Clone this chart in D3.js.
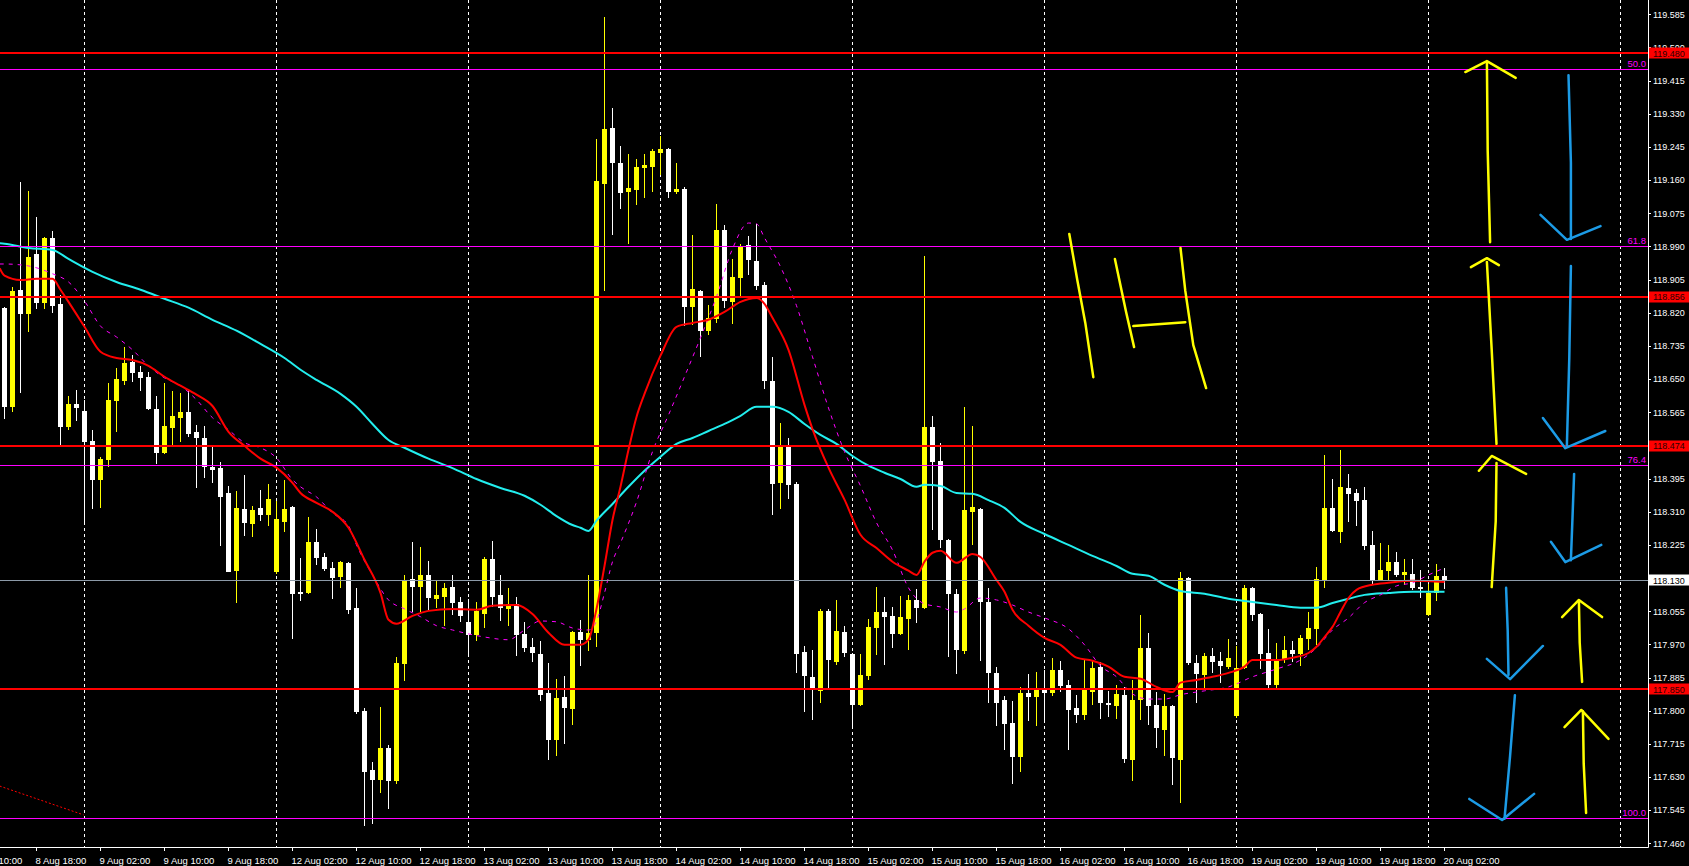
<!DOCTYPE html>
<meta charset="utf-8">
<head>
<style>
body { margin: 0; background: #000; overflow: hidden; }
svg { display: block; }
.axis text { font-family: "Liberation Sans", Arial, sans-serif; fill: #fff; }
</style>
</head>
<body>
<div id="chart"></div>
<script src="https://d3js.org/d3.v7.min.js"></script>
<script>

// hourly candles, bar 0 = 8 Aug 14:00
var open = [118.827,118.574,118.873,118.812,118.966,118.840,119.007,118.837,118.522,118.581,
118.563,118.486,118.386,118.438,118.589,118.640,118.689,118.663,118.650,118.568,
118.456,118.520,118.545,118.561,118.509,118.494,118.419,118.417,118.353,118.154,
118.312,118.274,118.315,118.297,118.151,118.279,118.317,118.099,118.097,118.228,
118.190,118.161,118.138,118.174,118.058,117.795,117.643,117.618,117.700,117.615,
117.915,118.133,118.112,118.143,118.081,118.087,118.112,118.074,118.023,117.989,
118.043,118.184,118.092,118.056,118.069,117.992,117.958,117.941,117.840,117.720,
117.830,117.799,117.997,117.976,117.994,119.145,119.289,119.199,119.125,119.130,
119.186,119.189,119.225,119.235,119.125,119.132,118.830,118.871,118.768,118.799,
119.027,118.843,118.904,118.989,118.948,118.886,118.640,118.379,118.471,118.376,
117.946,117.881,117.845,118.050,117.920,117.996,117.940,117.811,117.883,118.007,
118.048,118.037,117.992,118.030,118.079,118.059,118.521,118.435,118.233,118.093,
117.949,118.305,118.312,118.073,117.892,117.823,117.764,117.677,117.841,117.830,
117.851,117.841,117.899,117.861,117.802,117.784,117.843,117.907,117.815,117.807,
117.835,117.669,117.823,117.956,117.810,117.746,117.807,117.669,118.136,117.917,
117.887,117.935,117.922,117.907,117.782,117.905,118.110,118.043,117.943,117.861,
117.928,117.951,117.940,117.979,118.005,118.131,118.315,118.253,118.366,118.353,
118.335,118.220,118.131,118.153,118.177,118.143,118.146,118.112,118.040,118.097,
118.141];

var high = [118.830,118.880,119.150,119.127,119.060,119.010,119.025,118.861,118.602,118.617,
118.591,118.515,118.446,118.635,118.673,118.727,118.707,118.679,118.663,118.602,
118.635,118.615,118.610,118.620,118.527,118.525,118.476,118.432,118.371,118.358,
118.399,118.320,118.361,118.376,118.333,118.386,118.320,118.187,118.292,118.261,
118.200,118.177,118.180,118.176,118.110,117.802,117.664,117.805,117.707,117.933,
118.143,118.228,118.215,118.180,118.128,118.123,118.143,118.087,118.081,118.074,
118.189,118.230,118.143,118.110,118.087,118.023,117.982,117.974,117.917,117.876,
117.884,118.000,118.028,118.143,119.260,119.573,119.340,119.242,119.222,119.209,
119.222,119.235,119.268,119.238,119.199,119.137,119.014,118.873,118.835,119.094,
119.040,118.953,118.991,119.012,119.042,118.894,118.702,118.532,118.494,118.381,
117.962,117.951,118.055,118.057,118.079,118.012,117.942,117.940,118.030,118.111,
118.087,118.062,118.089,118.092,118.108,118.960,118.550,118.481,118.236,118.106,
118.573,118.526,118.315,118.109,117.908,117.833,117.820,117.856,117.889,117.894,
117.899,117.930,117.922,117.874,117.835,117.925,117.925,117.920,117.846,117.861,
117.856,117.874,118.040,117.994,117.843,117.838,117.810,118.151,118.138,117.938,
117.943,117.956,117.946,117.979,117.961,118.117,118.112,118.045,118.005,117.969,
117.987,117.974,117.989,118.048,118.163,118.451,118.389,118.464,118.402,118.363,
118.369,118.256,118.225,118.220,118.202,118.184,118.184,118.156,118.120,118.171,
118.161];

var low = [118.542,118.561,118.610,118.766,118.825,118.825,118.815,118.477,118.515,118.538,
118.276,118.312,118.315,118.420,118.510,118.630,118.637,118.615,118.566,118.427,
118.452,118.476,118.484,118.496,118.366,118.392,118.379,118.217,118.150,118.072,
118.243,118.241,118.282,118.269,118.146,118.253,117.979,118.076,118.094,118.169,
118.154,118.081,118.110,118.043,117.787,117.500,117.505,117.584,117.543,117.607,
117.871,118.048,118.048,118.053,118.058,118.012,118.040,118.023,117.938,117.974,
118.007,118.061,118.025,118.012,117.935,117.946,117.920,117.820,117.669,117.679,
117.710,117.759,117.910,117.948,117.958,118.871,119.014,119.081,118.991,119.091,
119.109,119.125,119.168,119.109,119.119,118.781,118.784,118.702,118.758,118.789,
118.827,118.786,118.858,118.912,118.873,118.620,118.297,118.312,118.338,117.892,
117.791,117.771,117.816,117.852,117.913,117.933,117.753,117.807,117.874,117.938,
117.913,117.956,117.990,117.951,118.021,118.057,118.258,118.212,117.933,117.890,
117.940,118.221,117.922,117.816,117.757,117.695,117.607,117.638,117.769,117.756,
117.766,117.833,117.843,117.695,117.764,117.771,117.810,117.774,117.779,117.774,
117.661,117.615,117.771,117.759,117.700,117.679,117.605,117.559,117.912,117.815,
117.851,117.892,117.866,117.902,117.776,117.902,118.025,117.902,117.851,117.848,
117.917,117.920,117.910,117.951,117.964,118.110,118.254,118.225,118.279,118.269,
118.207,118.117,118.128,118.131,118.138,118.117,118.105,118.084,118.038,118.076,
118.107];

var close = [118.574,118.871,118.812,118.958,118.840,119.007,118.832,118.522,118.581,118.571,
118.485,118.386,118.440,118.591,118.645,118.686,118.661,118.648,118.568,118.456,
118.525,118.550,118.561,118.504,118.494,118.420,118.413,118.344,118.151,118.315,
118.277,118.310,118.297,118.338,118.287,118.312,118.094,118.094,118.228,118.187,
118.159,118.136,118.177,118.053,117.792,117.638,117.618,117.700,117.615,117.917,
118.131,118.112,118.143,118.084,118.092,118.110,118.071,118.038,117.989,118.051,
118.184,118.087,118.058,118.069,117.989,117.956,117.943,117.835,117.720,117.828,
117.802,117.997,117.976,117.994,119.153,119.286,119.199,119.122,119.135,119.189,
119.194,119.230,119.235,119.125,119.132,118.830,118.876,118.768,118.802,119.027,
118.845,118.907,118.986,118.950,118.884,118.640,118.376,118.471,118.374,117.940,
117.883,117.851,118.050,117.924,117.999,117.942,117.811,117.887,118.009,118.048,
118.035,117.992,118.035,118.079,118.059,118.521,118.433,118.233,118.095,117.951,
118.309,118.316,118.073,117.892,117.816,117.761,117.677,117.841,117.830,117.851,
117.841,117.899,117.858,117.797,117.784,117.853,117.904,117.815,117.810,117.838,
117.671,117.823,117.956,117.807,117.751,117.807,117.674,118.136,117.917,117.889,
117.935,117.920,117.910,117.930,117.904,118.110,118.040,117.940,117.861,117.928,
117.951,117.940,117.982,118.007,118.133,118.315,118.256,118.369,118.351,118.333,
118.217,118.128,118.156,118.177,118.143,118.151,118.110,118.107,118.097,118.141,
118.130];

// moving averages, read as [bar, price]
var maSlow = [[-0.6,118.993],[0,118.992],[3,118.981],[6,118.976],[8,118.953],[11,118.920],[14,118.894],[17,118.874],[20,118.851],
[23,118.828],[26,118.797],[29,118.769],[32,118.735],[35,118.699],[37,118.669],[39,118.643],[42,118.607],[44,118.574],
[46,118.530],[48,118.489],[50,118.469],[53,118.441],[56,118.417],[59,118.389],[62,118.366],[65,118.346],[67,118.323],
[69,118.294],[71,118.271],[72,118.264],[73,118.256],[74,118.282],[76,118.325],[78,118.369],[80,118.410],[82,118.446],
[84,118.479],[86,118.494],[88,118.512],[90,118.530],[92,118.551],[94,118.574],[96,118.574],[98,118.561],[100,118.530],
[102,118.502],[104,118.479],[106,118.448],[108,118.423],[110,118.405],[112,118.389],[114,118.369],[115,118.374],
[117,118.371],[119,118.353],[121,118.351],[123,118.335],[125,118.315],[127,118.279],[130,118.248],[133,118.220],
[136,118.192],[139,118.166],[141,118.146],[143,118.141],[145,118.118],[147,118.102],[150,118.095],[153,118.082],
[156,118.074],[159,118.066],[162,118.059],[164,118.059],[166,118.071],[168,118.082],[170,118.092],[173,118.097],
[176,118.100],[180,118.100]];

var maFast = [[-0.6,118.929],[0,118.910],[2,118.899],[4,118.902],[6,118.902],[7,118.874],[8,118.843],[10,118.779],[12,118.715],
[14,118.699],[16,118.694],[18,118.679],[20,118.651],[22,118.628],[24,118.605],[26,118.576],[28,118.510],[30,118.474],
[32,118.441],[34,118.418],[36,118.379],[37,118.353],[39,118.328],[41,118.305],[43,118.264],[45,118.182],[47,118.097],
[48,118.028],[49,118.018],[51,118.038],[53,118.051],[56,118.056],[59,118.054],[61,118.064],[64,118.066],[66,118.043],
[68,117.995],[70,117.964],[72,117.964],[73,117.977],[74,118.056],[75,118.166],[76,118.284],[77,118.369],[78,118.464],
[79,118.548],[80,118.607],[82,118.705],[84,118.779],[86,118.789],[88,118.797],[90,118.817],[92,118.843],[94,118.853],
[95,118.838],[96,118.802],[98,118.720],[100,118.579],[101,118.517],[103,118.418],[105,118.336],[107,118.246],
[109,118.212],[111,118.177],[113,118.154],[114,118.143],[115,118.177],[116,118.200],[117,118.205],[119,118.174],
[121,118.197],[122,118.189],[124,118.130],[125,118.100],[126,118.054],[128,118.013],[130,117.982],[132,117.964],
[134,117.931],[136,117.923],[138,117.908],[140,117.882],[142,117.877],[144,117.856],[146,117.843],[147,117.867],
[149,117.874],[151,117.882],[153,117.892],[155,117.908],[156,117.925],[159,117.925],[161,117.931],[163,117.943],
[164,117.959],[165,117.984],[166,118.010],[167,118.048],[168,118.084],[169,118.105],[171,118.118],[173,118.123],
[176,118.128],[180,118.125]];

var maDash = [[-0.6,118.940],[0,118.940],[3,118.935],[6,118.915],[8,118.894],[10,118.845],[12,118.781],[14,118.753],[16,118.720],
[18,118.679],[20,118.648],[22,118.628],[24,118.592],[26,118.546],[28,118.515],[30,118.482],[32,118.469],[34,118.443],
[36,118.387],[37,118.369],[39,118.343],[41,118.302],[43,118.269],[44,118.220],[46,118.143],[48,118.079],[50,118.056],
[52,118.036],[54,118.013],[56,118.002],[58,117.992],[60,117.984],[63,117.977],[65,118.002],[67,118.025],[69,118.023],
[71,118.007],[73,118.002],[74,118.025],[75,118.097],[76,118.177],[77,118.225],[79,118.330],[81,118.459],[83,118.553],
[85,118.651],[87,118.751],[89,118.856],[91,118.979],[93,119.045],[94,119.043],[95,119.007],[97,118.933],[99,118.833],
[101,118.702],[103,118.571],[105,118.459],[107,118.371],[109,118.277],[111,118.207],[113,118.110],[115,118.069],
[117,118.061],[119,118.048],[120,118.056],[122,118.084],[124,118.079],[126,118.066],[128,118.048],[130,118.033],
[133,118.005],[135,117.964],[137,117.910],[139,117.882],[141,117.838],[143,117.825],[145,117.825],[147,117.836],
[150,117.846],[153,117.856],[156,117.882],[159,117.902],[162,117.925],[164,117.956],[166,118.002],[168,118.033],
[170,118.072],[172,118.092],[174,118.115],[176,118.123],[178,118.143],[180,118.161]];

// levels
var redLevels = [119.480, 118.856, 118.474, 117.850];
var fibNames = ["50.0", "61.8", "76.4", "100.0"];
var fibPrices = [119.439, 118.987, 118.425, 117.519];
var bidPrice = 118.130;
var trendLine = [[-0.6, 117.602], [9.9, 117.528]];

// axis
var priceTicks = [119.585,119.500,119.415,119.330,119.245,119.160,119.075,118.990,118.905,118.820,118.735,118.650,
118.565,118.480,118.395,118.310,118.225,118.140,118.055,117.970,117.885,117.800,117.715,117.630,117.545,117.460];
var timeTickBars = d3.range(-4, 181, 8);
var timeTickLabels = ["8 Aug 10:00","8 Aug 18:00","9 Aug 02:00","9 Aug 10:00","9 Aug 18:00","12 Aug 02:00",
"12 Aug 10:00","12 Aug 18:00","13 Aug 02:00","13 Aug 10:00","13 Aug 18:00","14 Aug 02:00","14 Aug 10:00",
"14 Aug 18:00","15 Aug 02:00","15 Aug 10:00","15 Aug 18:00","16 Aug 02:00","16 Aug 10:00","16 Aug 18:00",
"19 Aug 02:00","19 Aug 10:00","19 Aug 18:00","20 Aug 02:00"];
var dayGridBars = [10, 34, 58, 82, 106, 130, 154, 178, 202];

// hand drawn marks, [bar, price]
var yellowStrokes = [
  [[185.7,118.996],[185.4,119.230],[185.3,119.458]],
  [[182.6,119.432],[185.3,119.460],[188.9,119.417]],
  [[186.5,118.479],[185.9,118.720],[185.3,118.945]],
  [[183.3,118.932],[185.3,118.955],[186.8,118.937]],
  [[185.9,118.112],[186.4,118.280],[186.5,118.430]],
  [[184.3,118.410],[185.9,118.448],[190.2,118.402]],
  [[197.2,117.869],[196.9,117.970],[196.8,118.076]],
  [[194.7,118.035],[196.8,118.079],[199.7,118.035]],
  [[197.7,117.533],[197.4,117.660],[197.3,117.794]],
  [[195.0,117.753],[197.1,117.797],[200.5,117.723]],
  [[133.1,119.017],[134.1,118.899],[135.1,118.789],[136.1,118.650]],
  [[138.8,118.953],[140.2,118.817],[141.2,118.727]],
  [[141.1,118.781],[147.6,118.791]],
  [[147.0,118.981],[147.6,118.871],[148.6,118.732],[150.2,118.622]]
];
var blueStrokes = [
  [[195.5,119.424],[195.8,119.200],[195.8,119.004]],
  [[192.0,119.066],[195.3,119.002],[199.5,119.037]],
  [[195.8,118.935],[195.6,118.700],[195.3,118.476]],
  [[192.3,118.545],[195.1,118.468],[200.1,118.512]],
  [[196.2,118.402],[196.0,118.290],[195.8,118.181]],
  [[193.3,118.228],[195.1,118.176],[199.6,118.220]],
  [[187.7,118.110],[187.9,118.000],[188.0,117.887]],
  [[185.3,117.928],[188.2,117.876],[192.3,117.961]],
  [[188.8,117.835],[188.2,117.680],[187.5,117.518]],
  [[183.1,117.569],[187.2,117.515],[191.2,117.582]]
];

var width = 1689, height = 866,
    plotW = 1648, plotH = 847;

var x = d3.scaleLinear().domain([0, 205]).range([4.5, 4.5 + 8 * 205]);
var y = d3.scaleLinear().domain([117.4458, 119.6166]).range([plotH, 0]);

var svg = d3.select("#chart").append("svg")
    .attr("width", width)
    .attr("height", height);

svg.append("rect").attr("width", width).attr("height", height).attr("fill", "#000");

svg.append("defs").append("clipPath").attr("id", "plot")
  .append("rect").attr("width", plotW).attr("height", plotH);

var plot = svg.append("g").attr("clip-path", "url(#plot)");

// day separators
plot.selectAll(".grid").data(dayGridBars).enter().append("line")
    .attr("x1", function(d) { return x(d); })
    .attr("x2", function(d) { return x(d); })
    .attr("y1", 0).attr("y2", plotH)
    .attr("stroke", "#fff")
    .attr("stroke-dasharray", "3,3")
    .attr("shape-rendering", "crispEdges");

// candles
var candles = d3.range(open.length).map(function(i) {
  return {i: i, o: open[i], h: high[i], l: low[i], c: close[i]};
});

var candle = plot.selectAll(".candle").data(candles).enter().append("g")
    .attr("class", "candle")
    .attr("shape-rendering", "crispEdges");

candle.append("line")
    .attr("x1", function(d) { return x(d.i); })
    .attr("x2", function(d) { return x(d.i); })
    .attr("y1", function(d) { return y(d.h); })
    .attr("y2", function(d) { return y(d.l); })
    .attr("stroke", function(d) { return d.c >= d.o ? "#ffff00" : "#fff"; });

candle.append("rect")
    .attr("x", function(d) { return x(d.i) - 2.5; })
    .attr("width", 5)
    .attr("y", function(d) { return y(Math.max(d.o, d.c)); })
    .attr("height", function(d) { return Math.max(1.5, Math.abs(y(d.o) - y(d.c))); })
    .attr("fill", function(d) { return d.c >= d.o ? "#ffff00" : "#fff"; });

// moving averages
var maLine = d3.line()
    .x(function(d) { return x(d[0]); })
    .y(function(d) { return y(d[1]); })
    .curve(d3.curveMonotoneX);

plot.append("path").datum(maSlow).attr("d", maLine)
    .attr("fill", "none").attr("stroke", "#22eeee").attr("stroke-width", 2);
plot.append("path").datum(maDash).attr("d", maLine)
    .attr("fill", "none").attr("stroke", "#ff00ff").attr("stroke-width", 1)
    .attr("stroke-dasharray", "4,5");
plot.append("path").datum(maFast).attr("d", maLine)
    .attr("fill", "none").attr("stroke", "#ff0000").attr("stroke-width", 2);

// fibo levels
plot.selectAll(".fib").data(fibPrices).enter().append("line")
    .attr("x1", 0).attr("x2", plotW)
    .attr("y1", function(d) { return Math.round(y(d)) + 0.5; })
    .attr("y2", function(d) { return Math.round(y(d)) + 0.5; })
    .attr("stroke", "#ff00ff");

plot.selectAll(".fibtext").data(fibPrices).enter().append("text")
    .attr("x", plotW - 2)
    .attr("y", function(d) { return y(d) - 2; })
    .attr("text-anchor", "end")
    .style("font", "9.5px 'Liberation Sans', Arial, sans-serif")
    .attr("fill", "#ff00ff")
    .text(function(d, i) { return fibNames[i]; });

// horizontal lines
plot.selectAll(".level").data(redLevels).enter().append("line")
    .attr("x1", 0).attr("x2", plotW)
    .attr("y1", function(d) { return Math.round(y(d)); })
    .attr("y2", function(d) { return Math.round(y(d)); })
    .attr("stroke", "#ff0000").attr("stroke-width", 2);

plot.append("line")
    .attr("x1", 0).attr("x2", plotW)
    .attr("y1", Math.round(y(bidPrice)) + 0.5)
    .attr("y2", Math.round(y(bidPrice)) + 0.5)
    .attr("stroke", "#8c9aa8");

plot.append("path").datum(trendLine).attr("d", d3.line()
      .x(function(d) { return x(d[0]); })
      .y(function(d) { return y(d[1]); }))
    .attr("fill", "none").attr("stroke", "#ff0000").attr("stroke-dasharray", "2,2");

// hand drawn arrows
var stroke = d3.line()
    .x(function(d) { return x(d[0]); })
    .y(function(d) { return y(d[1]); });

plot.selectAll(".ystroke").data(yellowStrokes).enter().append("path")
    .attr("d", stroke)
    .attr("fill", "none").attr("stroke", "#ffff00").attr("stroke-width", 2.5)
    .attr("stroke-linecap", "round").attr("stroke-linejoin", "round");

plot.selectAll(".bstroke").data(blueStrokes).enter().append("path")
    .attr("d", stroke)
    .attr("fill", "none").attr("stroke", "#1c9be6").attr("stroke-width", 2.5)
    .attr("stroke-linecap", "round").attr("stroke-linejoin", "round");

// price axis
var yAxis = svg.append("g").attr("class", "axis");

yAxis.selectAll(".tick").data(priceTicks).enter().append("line")
    .attr("x1", plotW).attr("x2", plotW + 3)
    .attr("y1", function(d) { return Math.round(y(d) + 2) + 0.5; })
    .attr("y2", function(d) { return Math.round(y(d) + 2) + 0.5; })
    .attr("stroke", "#fff");

yAxis.selectAll("text").data(priceTicks).enter().append("text")
    .attr("x", plotW + 5)
    .attr("y", function(d) { return y(d) + 5.2; })
    .style("font-size", "9px")
    .text(function(d) { return d.toFixed(3); });

// price labels of the lines
var tags = redLevels.map(function(d) { return {v: d, bg: "#ff0000", fg: "#2a0000"}; })
    .concat([{v: bidPrice, bg: "#fff", fg: "#000"}]);

var tag = svg.selectAll(".tag").data(tags).enter().append("g");
tag.append("rect")
    .attr("x", plotW + 1).attr("width", width - plotW - 1)
    .attr("y", function(d) { return Math.round(y(d.v)) - 5.5; })
    .attr("height", 11)
    .attr("fill", function(d) { return d.bg; });
tag.append("text")
    .attr("x", plotW + 5)
    .attr("y", function(d) { return y(d.v) + 3.6; })
    .style("font", "9px 'Liberation Sans', Arial, sans-serif")
    .attr("fill", function(d) { return d.fg; })
    .text(function(d) { return d.v.toFixed(3); });

// time axis
var xAxis = svg.append("g").attr("class", "axis");

xAxis.selectAll(".tick").data(timeTickBars).enter().append("line")
    .attr("x1", function(d) { return x(d); })
    .attr("x2", function(d) { return x(d); })
    .attr("y1", plotH).attr("y2", plotH + 4)
    .attr("stroke", "#fff");

xAxis.selectAll("text").data(timeTickBars).enter().append("text")
    .attr("x", function(d) { return x(d) - 1; })
    .attr("y", 863.5)
    .style("font-size", "9.5px")
    .text(function(d, i) { return timeTickLabels[i]; });

// frame
svg.append("line").attr("x1", plotW + 0.5).attr("x2", plotW + 0.5)
    .attr("y1", 0).attr("y2", plotH + 0.5).attr("stroke", "#fff");
svg.append("line").attr("x1", 0).attr("x2", plotW + 0.5)
    .attr("y1", plotH + 0.5).attr("y2", plotH + 0.5).attr("stroke", "#fff");

</script>
</body>
